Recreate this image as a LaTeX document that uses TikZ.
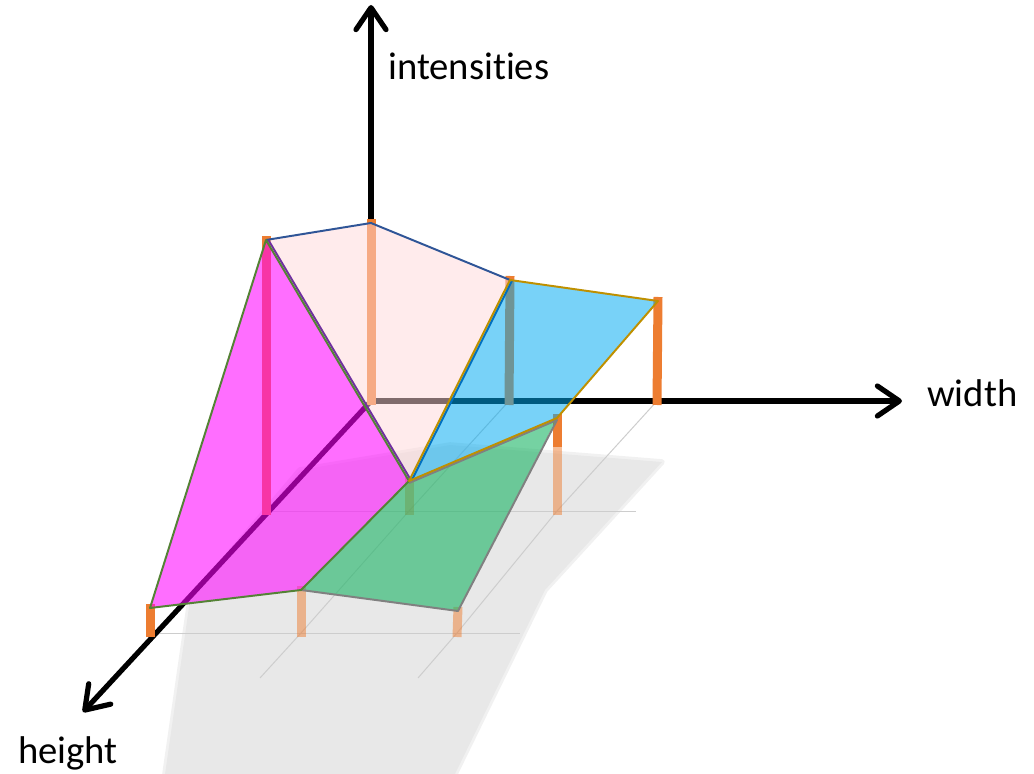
\documentclass[tikz,border=0pt]{standalone}
\usepackage{fontspec}
\setmainfont{Carlito}[Ligatures=NoCommon]
\usepackage{xcolor}
\usepackage{tikz}
\usetikzlibrary{
  arrows.meta
}
\definecolor{barorange}{RGB}{237, 125, 49}
\definecolor{pinkface}{RGB}{255, 215, 217}
\definecolor{cyanface}{RGB}{0, 170, 241}
\definecolor{magface}{RGB}{255, 0, 255}
\definecolor{greenface}{RGB}{25, 180, 100}
\definecolor{edgeblue}{RGB}{47, 85, 151}
\definecolor{edgesky}{RGB}{0, 112, 192}
\definecolor{edgegold}{RGB}{191, 144, 0}
\definecolor{edgegreen}{RGB}{84, 130, 53}
\definecolor{edgepurple}{RGB}{112, 48, 160}
\definecolor{edgegray}{RGB}{128, 128, 128}
\definecolor{gridgray}{RGB}{205, 205, 205}
\definecolor{shadowgray}{RGB}{232, 232, 232}

\tikzset{
  axisarrow/.style={line width=3.7pt, line cap=round, -{Straight Barb[length=5.5mm, width=7.5mm, round]}},
  bar/.style={line width=6.4pt, barorange},
  fadedbar/.style={bar, opacity=0.5},
  gridline/.style={gridgray, line width=0.7pt},
  faceedge/.style={line width=1.4pt, line join=round},
  axislabel/.style={font=\fontsize{27.5}{32}\selectfont, anchor=base west, inner sep=0pt}
}

\begin{document}
\begin{tikzpicture}[x=0.025cm, y=-0.025cm]
  \useasboundingbox (0, 0) rectangle (1034, 774);
  % ground points and tops
  \coordinate (g11) at (371, 401);
  \coordinate (g12) at (509, 401);
  \coordinate (g13) at (657, 401);
  \coordinate (g21) at (266, 511);
  \coordinate (g22) at (409, 511);
  \coordinate (g23) at (557, 511);
  \coordinate (g31) at (150, 633);
  \coordinate (g32) at (301, 633);
  \coordinate (g33) at (457, 633);
  \coordinate (t11) at (371, 223);
  \coordinate (t12) at (510, 280);
  \coordinate (t13) at (658, 301);
  \coordinate (t21) at (266, 240);
  \coordinate (t22) at (409, 481);
  \coordinate (t23) at (557, 418);
  \coordinate (t31) at (150, 608);
  \coordinate (t32) at (301, 590);
  \coordinate (t33) at (458, 611);
  \coordinate (m23) at (557, 447);
  % shadow
  \fill[shadowgray] (190, 600) -- (300, 470) -- (450, 445) -- (662, 462) -- (600, 530) -- (545, 590) -- (455, 774) -- (165, 774) -- cycle;
  \draw[shadowgray, line width=4pt, opacity=0.6, line join=round] (190, 600) -- (300, 470) -- (450, 445) -- (662, 462) -- (600, 530) -- (545, 590) -- (455, 774) -- (165, 774) -- cycle;
  % grid
  \coordinate (e2) at (636, 511);
  \coordinate (e3) at (520, 633);
  \coordinate (d2) at (260, 678);
  \coordinate (d3) at (418, 678);
  \draw[gridline] (g21) -- (e2);
  \draw[gridline] (g31) -- (e3);
  \draw[gridline] (g12) -- (g22) -- (g32) -- (d2);
  \draw[gridline] (g13) -- (g23) -- (g33) -- (d3);
  % axes
  \coordinate (ax) at (902, 401);
  \coordinate (ay) at (371, 5);
  \coordinate (az) at (83, 712);
  \draw[axisarrow] (g11) -- (ax);
  \draw[axisarrow] (g11) -- (ay);
  \draw[axisarrow] (g11) -- (az);
  % bars
  \draw[bar] ([yshift=-1mm]g11) -- ([yshift=1mm]t11);
  \draw[bar] ([yshift=-1mm]g12) -- ([yshift=1mm]t12);
  \draw[bar] ([yshift=-1mm]g13) -- ([yshift=1mm]t13);
  \draw[bar] ([yshift=-1mm]g21) -- ([yshift=1mm]t21);
  \draw[fadedbar] ([yshift=-1mm]g22) -- ([yshift=1mm]t22);
  \draw[bar] (m23) -- ([yshift=1mm]t23);
  \draw[fadedbar] ([yshift=-1mm]g23) -- (m23);
  \draw[bar] ([yshift=-1mm]g31) -- ([yshift=1mm]t31);
  \draw[fadedbar] ([yshift=-1mm]g32) -- ([yshift=1mm]t32);
  \draw[fadedbar] ([yshift=-1mm]g33) -- ([yshift=1mm]t33);
  % faces
  \fill[pinkface, fill opacity=0.5] (t21) -- (t11) -- (t12) -- (t22) -- cycle;
  \fill[cyanface, fill opacity=0.53] (t12) -- (t13) -- (t23) -- (t22) -- cycle;
  \fill[magface, fill opacity=0.57] (t21) -- (t22) -- (t32) -- (t31) -- cycle;
  \fill[greenface, fill opacity=0.6] (t22) -- (t23) -- (t33) -- (t32) -- cycle;
  % edges
  \draw[faceedge, edgeblue] (t21) -- (t11) -- (t12);
  \draw[faceedge, edgesky] ([xshift=0.6mm]t22) -- ([xshift=0.6mm]t12);
  \draw[faceedge, edgepurple] ([xshift=0.6mm]t21) -- ([xshift=0.6mm]t22);
  \draw[faceedge, edgegray] ([yshift=-0.5mm]t22) -- ([yshift=-0.5mm]t23) -- (t33) -- (t32);
  \draw[faceedge, edgegreen] (t21) -- (t22) -- (t32) -- (t31) -- cycle;
  \draw[faceedge, edgegold] (t12) -- (t13) -- (t23) -- (t22) -- cycle;
  % labels
  \node[axislabel] (lint) at (388, 80) {intensities};
  \node[axislabel] (lwid) at (927, 407) {width};
  \node[axislabel] (lhei) at (18, 763) {height};
\end{tikzpicture}
\end{document}
